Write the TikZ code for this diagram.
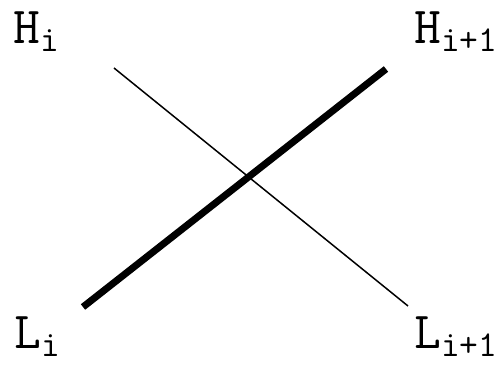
\documentclass[tikz,border=0pt]{standalone}
\begin{document}
\begin{tikzpicture}[x=0.5pt,y=-0.5pt,
  lbl/.style={anchor=base west,inner sep=0pt,font=\fontsize{26}{31}\selectfont\ttfamily},
  thinline/.style={line width=0.75pt},
  thickline/.style={line width=3.5pt}]
\useasboundingbox (0,0) rectangle (504,368);
\node[lbl] (Hi) at (13,44) {H\textsubscript{i}};
\node[lbl] (Hi1) at (414,44) {H\textsubscript{i+1}};
\node[lbl] (Li) at (14,349) {L\textsubscript{i}};
\node[lbl] (Li1) at (414,349) {L\textsubscript{i+1}};
\coordinate (a1) at (114,68);
\coordinate (a2) at (408,306);
\coordinate (b1) at (83,307);
\coordinate (b2) at (386,69);
\draw[thinline] (a1) -- (a2);
\draw[thickline] (b1) -- (b2);
\end{tikzpicture}
\end{document}
